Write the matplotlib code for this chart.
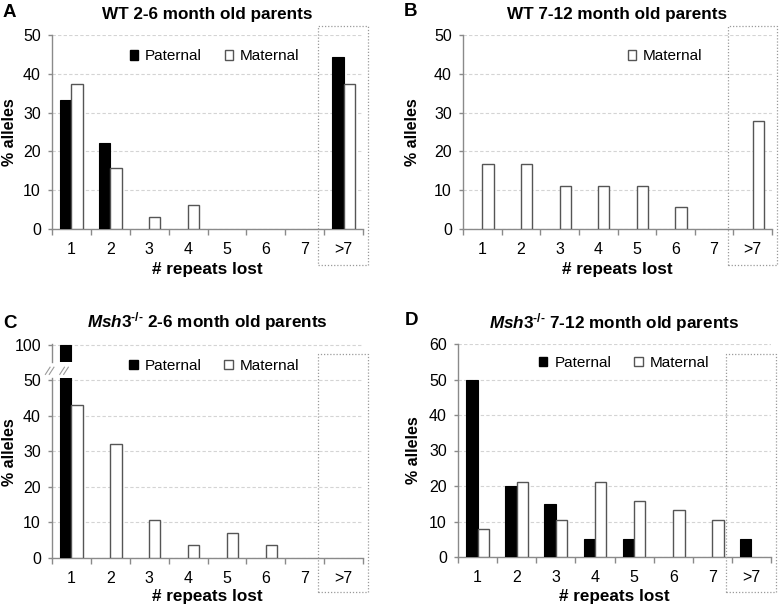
#!/usr/bin/env python3
"""Repeat-loss distributions for WT and Msh3-/- parents (4 panels)."""

import matplotlib
matplotlib.use("Agg")
import matplotlib.pyplot as plt
from matplotlib.patches import Patch, Rectangle
from matplotlib.transforms import blended_transform_factory
import numpy as np

plt.rcParams["font.family"] = ["Liberation Sans", "DejaVu Sans"]
plt.rcParams["mathtext.fontset"] = "custom"
plt.rcParams["mathtext.it"] = "Liberation Sans:italic:bold"
plt.rcParams["mathtext.rm"] = "Liberation Sans:bold"
plt.rcParams["mathtext.bf"] = "Liberation Sans:bold"

CATEGORIES = ["1", "2", "3", "4", "5", "6", "7", ">7"]

A_PATERNAL = [33.3, 22.2, 0, 0, 0, 0, 0, 44.4]
A_MATERNAL = [37.5, 15.6, 3.1, 6.25, 0, 0, 0, 37.5]

B_MATERNAL = [16.7, 16.7, 11.1, 11.1, 11.1, 5.6, 0, 27.8]

C_PATERNAL = [100, 0, 0, 0, 0, 0, 0, 0]
C_MATERNAL = [42.9, 32.1, 10.7, 3.6, 7.1, 3.6, 0, 0]

D_PATERNAL = [50, 20, 15, 5, 5, 0, 0, 5]
D_MATERNAL = [7.9, 21.0, 10.5, 21.0, 15.8, 13.2, 10.5, 0]

BAR_W = 0.29
SPINE = "#8a8a8a"
GRID = "#d4d4d4"
MAT_EDGE = "#555555"
TICK_FS = 11.5
LEG_FS = 11
LABEL_FS = 12.3

W, H = 780, 608


def fig_rect(left, top, right, bottom):
    # pixel box -> figure fraction rect
    return [left / W, 1 - bottom / H, (right - left) / W, (bottom - top) / H]


def style_axis(ax, ylim, yticks, xticks=True):
    x = np.arange(len(CATEGORIES))
    ax.set_xlim(-0.5, len(CATEGORIES) - 0.5)
    ax.set_ylim(*ylim)
    ax.set_yticks(yticks)
    ax.yaxis.grid(True, color=GRID, linestyle=(0, (3, 2)), linewidth=0.8)
    ax.set_axisbelow(True)
    for side in ("top", "right"):
        ax.spines[side].set_visible(False)
    for side in ("left", "bottom"):
        ax.spines[side].set_color(SPINE)
        ax.spines[side].set_linewidth(1.0)
    ax.tick_params(axis="y", length=3, width=1, color=SPINE, pad=5, labelsize=TICK_FS)
    if xticks:
        ax.set_xticks(x)
        ax.set_xticklabels(CATEGORIES)
        ax.set_xticks(np.arange(len(CATEGORIES) + 1) - 0.5, minor=True)
        ax.tick_params(axis="x", which="major", length=0, pad=9.5, labelsize=TICK_FS)
        ax.tick_params(axis="x", which="minor", length=4, width=1, color=SPINE)
    else:
        ax.set_xticks([])


def draw_bars(ax, paternal=None, maternal=None):
    x = np.arange(len(CATEGORIES))
    if paternal is not None:
        p = np.array(paternal, dtype=float)
        keep = p > 0
        ax.bar(x[keep] - BAR_W / 2, p[keep], BAR_W, color="black",
               edgecolor="black", linewidth=0.8, zorder=3)
    if maternal is not None:
        m = np.array(maternal, dtype=float)
        keep = m > 0
        ax.bar(x[keep] + BAR_W / 2, m[keep], BAR_W, color="white",
               edgecolor=MAT_EDGE, linewidth=1.0, zorder=3)


def dotted_box(ax, top, bottom, x0=6.35, x1=7.63):
    tr = blended_transform_factory(ax.transData, ax.transAxes)
    ax.add_patch(Rectangle((x0, bottom), x1 - x0, top - bottom, transform=tr,
                           fill=False, edgecolor="#9a9a9a", linewidth=0.9,
                           linestyle=(0, (1, 1.5)), clip_on=False, zorder=5))


def add_legend(ax, xy, both=True):
    handles = []
    if both:
        handles.append(Patch(facecolor="black", edgecolor="black", label="Paternal"))
    handles.append(Patch(facecolor="white", edgecolor=MAT_EDGE, label="Maternal"))
    leg = ax.legend(handles=handles, loc="center left", bbox_to_anchor=xy, ncol=2,
                    frameon=False, fontsize=LEG_FS, handlelength=0.55, handleheight=0.55,
                    handletextpad=0.45, columnspacing=1.5, borderpad=0, borderaxespad=0)
    leg.set_zorder(10)


def labels(ax, x_y, y_x, y_y=0.5):
    # positions given as axes fractions (x label baseline, y label centre)
    ax.set_xlabel("# repeats lost", fontsize=LABEL_FS, fontweight="bold")
    ax.set_ylabel("% alleles", fontsize=11.5, fontweight="bold")
    ax.xaxis.label.set_va("baseline")
    ax.yaxis.label.set_va("center")
    ax.xaxis.set_label_coords(0.5, x_y)
    ax.yaxis.set_label_coords(y_x, y_y)


def main():
    fig = plt.figure(figsize=(7.8, 6.08), dpi=100, facecolor="white")

    # A
    ax_a = fig.add_axes(fig_rect(52, 35, 363, 229))
    style_axis(ax_a, (0, 50), [0, 10, 20, 30, 40, 50])
    draw_bars(ax_a, A_PATERNAL, A_MATERNAL)
    add_legend(ax_a, (0.25, 0.89))
    labels(ax_a, -45 / 194, -0.138)
    ax_a.set_title("WT 2-6 month old parents", fontsize=LABEL_FS, fontweight="bold", pad=11.5)
    dotted_box(ax_a, 1.046, -0.186)

    # B
    ax_b = fig.add_axes(fig_rect(463, 35, 772, 229))
    style_axis(ax_b, (0, 50), [0, 10, 20, 30, 40, 50])
    draw_bars(ax_b, None, B_MATERNAL)
    add_legend(ax_b, (0.533, 0.89), both=False)
    labels(ax_b, -45 / 194, -0.162)
    ax_b.set_title("WT 7-12 month old parents", fontsize=LABEL_FS, fontweight="bold", pad=11.5)
    dotted_box(ax_b, 1.046, -0.186)

    # C (broken y axis)
    ax_c = fig.add_axes(fig_rect(52, 378, 363, 558))
    style_axis(ax_c, (0, 50.6), [0, 10, 20, 30, 40, 50])
    draw_bars(ax_c, C_PATERNAL, C_MATERNAL)
    labels(ax_c, -43 / 180, -0.138, 0.589)
    dotted_box(ax_c, 1.133, -0.19)

    ax_ct = fig.add_axes(fig_rect(52, 344, 363, 362))
    style_axis(ax_ct, (95, 100.2), [100], xticks=False)
    ax_ct.spines["bottom"].set_visible(False)
    ax_ct.patch.set_visible(False)
    draw_bars(ax_ct, C_PATERNAL, None)
    ax_ct.set_title(r"$\mathit{Msh3}^{\text{-/-}}$ 2-6 month old parents",
                    fontsize=LABEL_FS, fontweight="bold", pad=12)
    add_legend(ax_c, (0.248, 1.067))

    # break marks on the spine and on the clipped bar
    tr = blended_transform_factory(ax_c.transData, ax_c.transAxes)
    for xc in (-0.56, -0.19):
        for off in (-0.05, 0.05):
            ax_c.plot([xc + off - 0.06, xc + off + 0.06], [1.02, 1.06], transform=tr,
                      color="#9a9a9a", linewidth=0.8, clip_on=False, zorder=6)

    # D
    ax_d = fig.add_axes(fig_rect(458, 344, 771, 557))
    style_axis(ax_d, (0, 60), [0, 10, 20, 30, 40, 50, 60])
    draw_bars(ax_d, D_PATERNAL, D_MATERNAL)
    add_legend(ax_d, (0.259, 0.911))
    labels(ax_d, -44 / 213, -0.142)
    ax_d.set_title(r"$\mathit{Msh3}^{\text{-/-}}$ 7-12 month old parents",
                   fontsize=LABEL_FS, fontweight="bold", pad=11.5)
    dotted_box(ax_d, 0.953, -0.164)

    for letter, (px, py) in {"A": (3, 17), "B": (404, 16), "C": (3, 328), "D": (405, 325)}.items():
        fig.text(px / W, 1 - py / H, letter, fontsize=13.5, fontweight="bold",
                 ha="left", va="baseline")

    fig.savefig("out.png", dpi=100, facecolor="white")
    plt.close(fig)


if __name__ == "__main__":
    main()
